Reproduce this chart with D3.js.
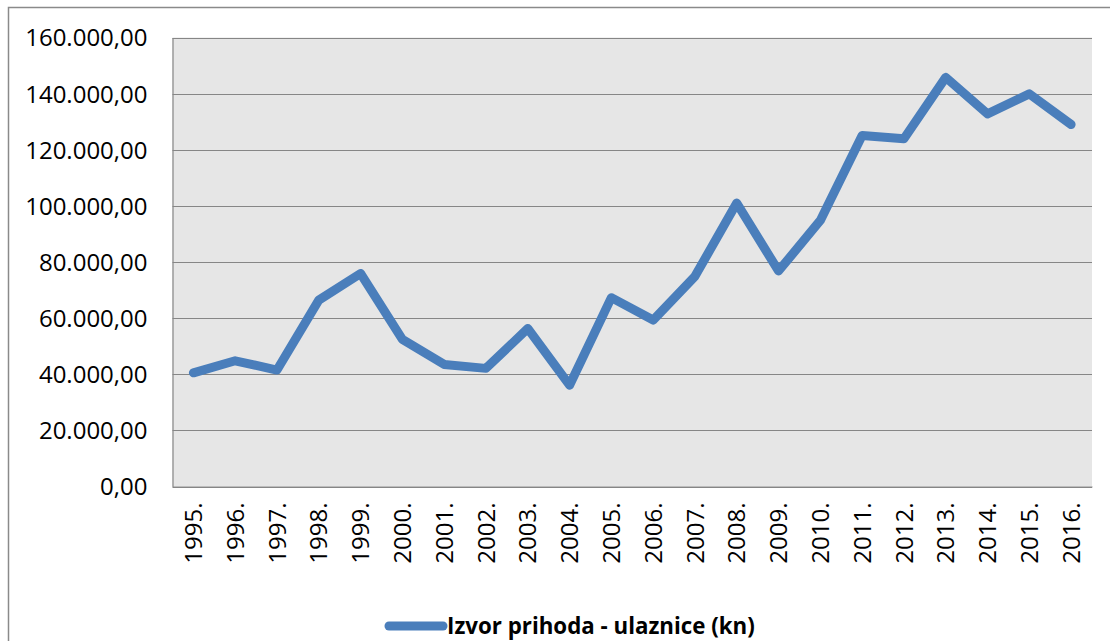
<!DOCTYPE html>
<html>
<head>
<meta charset="utf-8">
<script src="https://cdn.jsdelivr.net/npm/d3@7"></script>
<style>
  html, body { margin: 0; padding: 0; background: #fff; }
  svg { display: block; }
  text { font-family: "Open Sans", "Liberation Sans", sans-serif; fill: #000; }
</style>
</head>
<body>
<script>
const years = ["1995.","1996.","1997.","1998.","1999.","2000.","2001.","2002.","2003.","2004.","2005.","2006.","2007.","2008.","2009.","2010.","2011.","2012.","2013.","2014.","2015.","2016."];
const values = [40500, 44800, 41500, 66400, 75900, 52400, 43500, 42100, 56300, 36100, 67300, 59300, 74900, 101000, 76800, 94800, 125100, 123900, 145800, 132800, 139900, 129000];
const yTicks = [0, 20000, 40000, 60000, 80000, 100000, 120000, 140000, 160000];
const seriesName = "Izvor prihoda - ulaznice (kn)";

const W = 1110, H = 641;
const plot = { left: 172.5, top: 37.5, right: 1092, bottom: 486.5 };

const svg = d3.select("body").append("svg").attr("width", W).attr("height", H);

// outer chart frame
svg.append("rect")
  .attr("x", 8.5).attr("y", 7.5).attr("width", W + 20).attr("height", H + 20)
  .attr("fill", "#fff").attr("stroke", "#8a8a8a").attr("stroke-width", 1.5);

const x = d3.scaleBand().domain(years).range([plot.left, plot.right]);
const y = d3.scaleLinear().domain([0, 160000]).range([plot.bottom, plot.top]);

// plot background
svg.append("rect")
  .attr("x", plot.left).attr("y", plot.top)
  .attr("width", plot.right - plot.left).attr("height", plot.bottom - plot.top)
  .attr("fill", "#e6e6e6");

// gridlines
svg.append("g").selectAll("line").data(yTicks).join("line")
  .attr("x1", plot.left).attr("x2", plot.right)
  .attr("y1", d => Math.round(y(d)) + 0.5).attr("y2", d => Math.round(y(d)) + 0.5)
  .attr("stroke", "#868686").attr("stroke-width", 1.2);

// y axis
const fmt = d => {
  const s = Math.round(d).toString().replace(/\B(?=(\d{3})+(?!\d))/g, ".");
  return s + ",00";
};
const yAxis = d3.axisLeft(y).tickValues(yTicks).tickFormat(fmt).tickSize(0).tickPadding(25);
const gy = svg.append("g").attr("transform", `translate(${plot.left},0)`).call(yAxis);
gy.select(".domain").attr("stroke", "#868686").attr("stroke-width", 1.2);
gy.selectAll("text").attr("font-size", 24).attr("dy", "0.35em")
  .style("font-family", "'Open Sans', 'Liberation Sans', sans-serif");

// x axis
const xAxis = d3.axisBottom(x).tickSize(0).tickPadding(0);
const gx = svg.append("g").attr("transform", `translate(0,${plot.bottom})`).call(xAxis);
gx.select(".domain").attr("stroke", "#868686").attr("stroke-width", 1.2);
gx.selectAll("text")
  .attr("font-size", 24)
  .attr("text-anchor", "end")
  .attr("transform", "rotate(-90)")
  .attr("x", -16).attr("y", 0).attr("dy", "0.36em")
  .style("font-family", "'Open Sans', 'Liberation Sans', sans-serif");

// line
const line = d3.line()
  .x((d, i) => x(years[i]) + x.bandwidth() / 2)
  .y(d => y(d));
svg.append("path")
  .datum(values)
  .attr("d", line)
  .attr("fill", "none")
  .attr("stroke", "#4a7ebb")
  .attr("stroke-width", 9)
  .attr("stroke-linejoin", "round")
  .attr("stroke-linecap", "round");

// legend
const lg = svg.append("g");
lg.append("line")
  .attr("x1", 389).attr("x2", 443).attr("y1", 626).attr("y2", 626)
  .attr("stroke", "#4a7ebb").attr("stroke-width", 9).attr("stroke-linecap", "round");
lg.append("text")
  .attr("x", 447).attr("y", 634)
  .attr("font-size", 22.3).attr("font-weight", "bold")
  .text(seriesName);
</script>
</body>
</html>
